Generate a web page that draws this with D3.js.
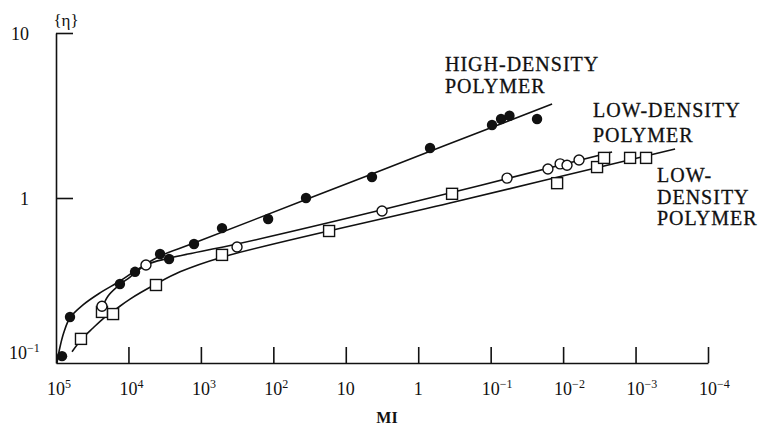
<!DOCTYPE html>
<html>

<head>
    <meta charset="utf-8" />
    <title>Intrinsic viscosity vs MI</title>
    <style>
        body { margin: 0; background: #fff; }
        svg { display: block; }
        text { font-family: "Liberation Serif", "Times New Roman", serif; fill: #111; }
    </style>
</head>

<body>
    <svg width=762 height=431></svg>
</body>

<script src="https://cdn.jsdelivr.net/npm/d3@7"></script>
<script>

    // x axis ticks (MI, decreasing to the right)
    var xTicks = [1e5, 1e4, 1e3, 1e2, 10, 1, 1e-1, 1e-2, 1e-3, 1e-4];
    var xTickBase = ['10', '10', '10', '10', '10', '1', '10', '10', '10', '10'];
    var xTickExp = ['5', '4', '3', '2', '', '', '\u22121', '\u22122', '\u22123', '\u22124'];

    var yTicks = [0.1, 1, 10];
    var yTickBase = ['10', '1', '10'];
    var yTickExp = ['\u22121', '', ''];

    // high-density polymer (filled circles)
    var hdMI = [82600, 64100, 13100, 8110, 3660, 2750, 1245, 511, 118, 35.4, 4.35, 0.687, 0.0958, 0.0719, 0.055, 0.0229];
    var hdEta = [0.110, 0.190, 0.301, 0.357, 0.458, 0.427, 0.526, 0.657, 0.746, 1.00, 1.34, 2.01, 2.77, 3.01, 3.15, 3.01];

    // low-density polymer (open circles)
    var ld1MI = [23200, 5730, 317, 3.16, 0.0594, 0.0162, 0.0110, 0.00883, 0.00603];
    var ld1Eta = [0.221, 0.393, 0.505, 0.834, 1.32, 1.50, 1.61, 1.58, 1.70];

    // low-density polymer (open squares)
    var ld2MI = [45200, 23200, 16300, 4170, 511, 17.0, 0.341, 0.0121, 0.0034, 0.00272, 0.00119, 0.000716];
    var ld2Eta = [0.140, 0.204, 0.198, 0.297, 0.452, 0.631, 1.06, 1.23, 1.54, 1.75, 1.75, 1.75];

    // drawn curves, read along the lines of the figure
    var hdFitMI = [96900, 88100, 77600, 64100, 42400, 24700, 13100, 8110, 3660, 1245, 4.35, 0.0142];
    var hdFitEta = [0.100, 0.125, 0.154, 0.188, 0.225, 0.266, 0.314, 0.361, 0.445, 0.533, 1.40, 3.71];
    var ld1FitMI = [23200, 19100, 14400, 9510, 5730, 2670, 317, 3.26, 0.00211];
    var ld1FitEta = [0.215, 0.255, 0.289, 0.332, 0.393, 0.433, 0.526, 0.845, 1.90];
    var ld2FitMI = [60100, 45200, 30800, 21700, 14900, 9510, 4170, 1940, 511, 0.364, 0.000285];
    var ld2FitEta = [0.117, 0.138, 0.163, 0.188, 0.212, 0.244, 0.301, 0.357, 0.438, 0.933, 1.98];

    var pairs = function (a, b) {
        return a.map(function (v, i) { return [v, b[i]]; });
    };

    var svg = d3.select('svg');

    var x = d3.scaleLog().domain([1e5, 1e-4]).range([56, 708]);
    var y = d3.scaleLog().domain([0.1, 10]).range([363, 33]);

    // axes
    svg.append('g')
        .attr('transform', 'translate(0,363)')
        .call(d3.axisBottom(x).tickValues(xTicks.slice(1)).tickSizeInner(-16).tickSizeOuter(0).tickFormat(''))
        .call(function (g) {
            g.selectAll('path, line').attr('stroke', '#111').attr('stroke-width', 1.6);
        });

    svg.append('g')
        .attr('transform', 'translate(56,0)')
        .call(d3.axisRight(y).tickValues([1, 10]).tickSizeInner(17).tickSizeOuter(0).tickFormat(''))
        .call(function (g) {
            g.selectAll('path, line').attr('stroke', '#111').attr('stroke-width', 1.6);
        });

    // x tick labels
    xTicks.forEach(function (t, i) {
        var lab = svg.append('text')
            .attr('y', 395)
            .attr('font-size', 18);
        if (xTickExp[i] === '') {
            lab.attr('x', x(t)).attr('text-anchor', 'middle').text(xTickBase[i]);
        } else {
            lab.attr('x', x(t) - 9).attr('text-anchor', 'start');
            lab.append('tspan').text(xTickBase[i]);
            lab.append('tspan').attr('dy', -7).attr('font-size', 12).text(xTickExp[i]);
        }
    });

    // y tick labels
    yTicks.forEach(function (t, i) {
        var lab = svg.append('text')
            .attr('y', Math.min(y(t) + 7, 359))
            .attr('font-size', 18);
        if (yTickExp[i] === '') {
            lab.attr('x', 29).attr('text-anchor', 'end').text(yTickBase[i]);
        } else {
            lab.attr('x', 9).attr('text-anchor', 'start');
            lab.append('tspan').text(yTickBase[i]);
            lab.append('tspan').attr('dy', -7).attr('font-size', 12).text(yTickExp[i]);
        }
    });

    svg.append('text')
        .attr('x', 66).attr('y', 26)
        .attr('text-anchor', 'middle')
        .attr('font-size', 17)
        .text('{\u03b7}');

    svg.append('text')
        .attr('x', 387).attr('y', 423)
        .attr('text-anchor', 'middle')
        .attr('font-size', 16)
        .attr('font-weight', 'bold')
        .text('MI');

    // curves
    var line = d3.line()
        .x(function (d) { return x(d[0]); })
        .y(function (d) { return y(d[1]); })
        .curve(d3.curveCatmullRom.alpha(0.5));

    [pairs(hdFitMI, hdFitEta), pairs(ld1FitMI, ld1FitEta), pairs(ld2FitMI, ld2FitEta)]
        .forEach(function (c) {
            svg.append('path')
                .datum(c)
                .attr('d', line)
                .attr('fill', 'none')
                .attr('stroke', '#111')
                .attr('stroke-width', 1.6);
        });

    // markers
    svg.append('g').selectAll('rect')
        .data(pairs(ld2MI, ld2Eta))
        .enter()
        .append('rect')
        .attr('x', function (d) { return x(d[0]) - 5.5; })
        .attr('y', function (d) { return y(d[1]) - 5.5; })
        .attr('width', 11)
        .attr('height', 11)
        .attr('fill', '#fff')
        .attr('stroke', '#111')
        .attr('stroke-width', 1.4);

    svg.append('g').selectAll('circle')
        .data(pairs(ld1MI, ld1Eta))
        .enter()
        .append('circle')
        .attr('cx', function (d) { return x(d[0]); })
        .attr('cy', function (d) { return y(d[1]); })
        .attr('r', 5)
        .attr('fill', '#fff')
        .attr('stroke', '#111')
        .attr('stroke-width', 1.4);

    svg.append('g').selectAll('circle')
        .data(pairs(hdMI, hdEta))
        .enter()
        .append('circle')
        .attr('cx', function (d) { return x(d[0]); })
        .attr('cy', function (d) { return y(d[1]); })
        .attr('r', 5.2)
        .attr('fill', '#111');

    // series labels
    var labels = [
        { lines: ['HIGH-DENSITY', 'POLYMER'], x: 445, y: 71, gap: 22 },
        { lines: ['LOW-DENSITY', 'POLYMER'], x: 593, y: 117, gap: 25 },
        { lines: ['LOW-', 'DENSITY', 'POLYMER'], x: 657, y: 182, gap: 21.5 }
    ];
    labels.forEach(function (l) {
        l.lines.forEach(function (s, i) {
            svg.append('text')
                .attr('x', l.x)
                .attr('y', l.y + i * l.gap)
                .attr('font-size', 20)
                .attr('letter-spacing', 1)
                .attr('stroke', '#111')
                .attr('stroke-width', 0.3)
                .text(s);
        });
    });
</script>

</html>
